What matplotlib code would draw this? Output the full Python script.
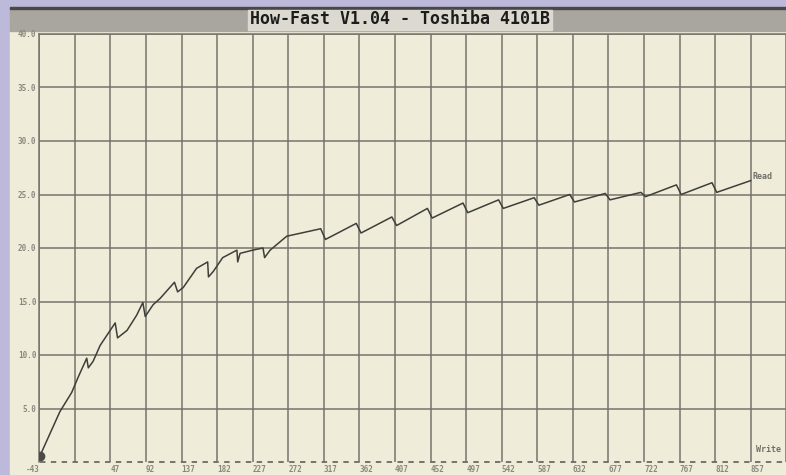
import matplotlib.pyplot as plt
from matplotlib.patches import Rectangle

# How-Fast read curve (transfer rate vs. position)
read_x = [-42, -17, -2, 6, 17, 19, 25, 34, 53, 56, 68, 80, 88, 91, 101, 110,
          128, 132, 139, 156, 170, 171, 177, 189, 207, 208, 211, 227, 240, 242,
          249, 270,
          313, 319, 358, 364, 403, 409, 448, 454, 493, 499, 538, 544, 583, 589,
          628, 634, 673, 679, 718, 724, 763, 769, 808, 814, 857]
read_y = [0.6, 4.7, 6.5, 7.9, 9.7, 8.8, 9.4, 10.9, 13.0, 11.6, 12.3, 13.7, 14.9,
          13.6, 14.7, 15.3, 16.8, 15.9, 16.3, 18.1, 18.7, 17.3, 17.8, 19.1, 19.8,
          18.7, 19.5, 19.8, 20.0, 19.1, 19.8, 21.1,
          21.8, 20.8, 22.3, 21.4, 22.9, 22.1, 23.7, 22.8, 24.2, 23.3, 24.5, 23.7,
          24.7, 24.0, 25.0, 24.3, 25.1, 24.5, 25.2, 24.8, 25.9, 25.0, 26.1, 25.2,
          26.3]

write_x = [-42, 902]
write_y = [0, 0]

x_ticks = [-43, 2, 47, 92, 137, 182, 227, 272, 317, 362, 407, 452, 497, 542,
           587, 632, 677, 722, 767, 812, 857, 902]
x_labels = ['-43', '', '47', '92', '137', '182', '227', '272', '317', '362',
            '407', '452', '497', '542', '587', '632', '677', '722', '767', '812',
            '857', '']
y_ticks = [5, 10, 15, 20, 25, 30, 35, 40]
y_labels = ['5.0', '10.0', '15.0', '20.0', '25.0', '30.0', '35.0', '40.0']

title = 'How-Fast V1.04 - Toshiba 4101B'

W, H = 786, 475
fig = plt.figure(figsize=(W / 100, H / 100), dpi=100, facecolor='#bdb9da')

# window body and title bar
fig.patches.append(Rectangle((10 / W, 0), 1, (H - 31) / H, transform=fig.transFigure,
                             color='#efedda', zorder=-3))
fig.patches.append(Rectangle((10 / W, (H - 31) / H), 1, 23 / H, transform=fig.transFigure,
                             color='#a8a69e', zorder=-3))
fig.patches.append(Rectangle((10 / W, (H - 9) / H), 1, 1.5 / H, transform=fig.transFigure,
                             color='#4a4844', zorder=-2))
fig.patches.append(Rectangle((248 / W, (H - 30) / H), 304 / W, 20 / H, transform=fig.transFigure,
                             color='#dcdad0', zorder=-2))
fig.text(400 / W, (H - 19.5) / H, title, ha='center', va='center', fontsize=12,
         family='DejaVu Sans Mono', weight='bold', color='#1c1c1c')

ax = fig.add_axes([39.3 / W, 13 / H, 747 / W, 428 / H])
ax.set_zorder(5)
ax.set_facecolor('#efedda')

ax.plot(read_x, read_y, color='#3e3e3a', lw=1.1, zorder=3)
ax.plot(read_x[:1], read_y[:1], 'o', color='#4a4a46', ms=6, zorder=3)
ax.plot(write_x, write_y, color='#6e6a60', lw=1.3, ls=(0, (3, 3)), zorder=3,
        clip_on=False)
ax.text(read_x[-1] + 2, read_y[-1] + 0.4, 'Read', fontsize=6, family='DejaVu Sans Mono',
        weight='bold', color='#707068', ha='left', va='center')
ax.text(880, 1.2, 'Write', fontsize=6, family='DejaVu Sans Mono', weight='bold',
        color='#707068', ha='center', va='center')

ax.set_xlim(-43, 902)
ax.set_ylim(0, 40)
ax.set_xticks(x_ticks)
ax.set_xticklabels(x_labels, ha='left')
ax.get_xticklabels()[0].set_ha('right')
ax.set_yticks(y_ticks)
ax.set_yticklabels(y_labels)
ax.tick_params(length=0, labelsize=5.5, labelcolor='#8a887e', pad=2)
for lab in ax.get_xticklabels() + ax.get_yticklabels():
    lab.set_family('DejaVu Sans Mono')
    lab.set_weight('bold')

ax.grid(True, color='#77736a', lw=1.1)
ax.set_axisbelow(True)
for side in ['right', 'bottom']:
    ax.spines[side].set_visible(False)
for side in ['left', 'top']:
    ax.spines[side].set_color('#77736a')
    ax.spines[side].set_linewidth(1.1)

fig.savefig('out.png', dpi=100, facecolor=fig.get_facecolor())
